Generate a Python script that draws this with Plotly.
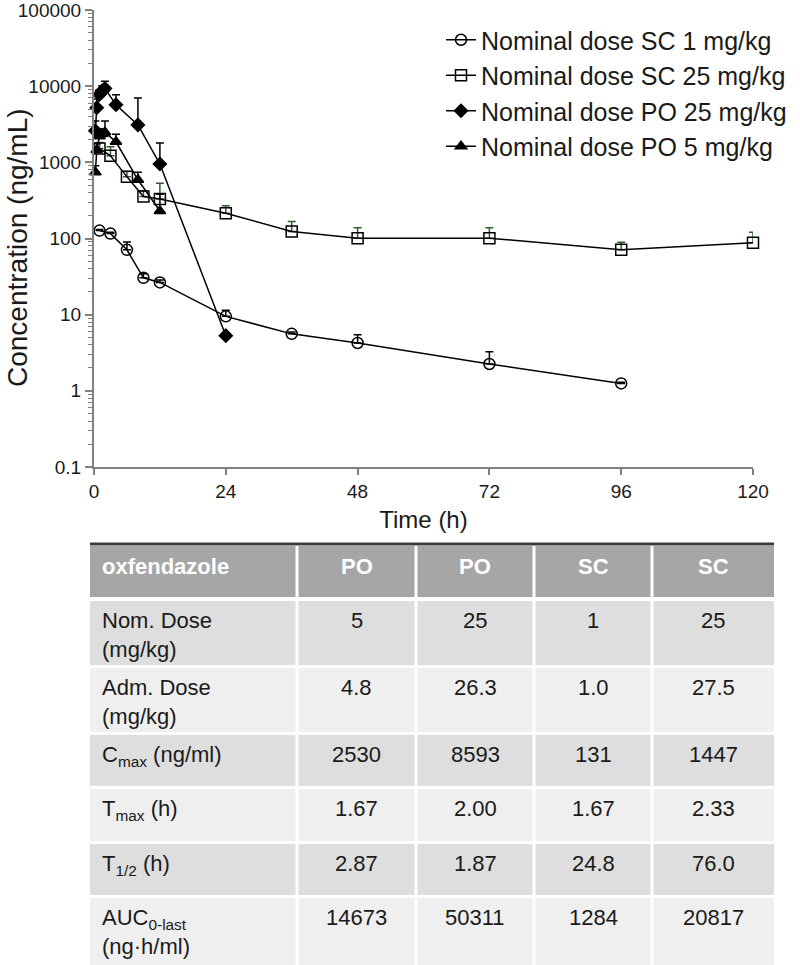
import plotly.graph_objects as go

# ---------------- data ----------------
sc1_t = [1, 3, 6, 9, 12, 24, 36, 48, 72, 96]
sc1_c = [127, 116, 71, 30.5, 26.5, 9.5, 5.6, 4.25, 2.25, 1.25]
sc1_e = [4, 5, 19, 4, 2, 1.9, 0.3, 1.2, 1.0, 0.05]

sc25_t = [1, 3, 6, 9, 12, 24, 36, 48, 72, 96, 120]
sc25_c = [1520, 1220, 645, 355, 330, 215, 124, 101, 101, 71, 88]
sc25_e = [300, 380, 115, 70, 200, 55, 43, 37, 37, 18, 33]

po25_t = [0.25, 0.5, 1, 1.5, 2, 4, 8, 12, 24]
po25_c = [2600, 5200, 7800, 8700, 9300, 5700, 3100, 950, 5.3]
po25_e = [900, 1600, 1200, 1400, 2300, 2000, 3900, 850, 0.4]

po5_t = [0.25, 0.5, 1, 1.5, 2, 4, 8, 12]
po5_c = [740, 1450, 2200, 2350, 2480, 1860, 590, 230]
po5_e = [160, 300, 300, 400, 1000, 480, 150, 150]

x_ticks = [0, 24, 48, 72, 96, 120]
y_ticks = [0.1, 1, 10, 100, 1000, 10000, 100000]
y_ticklabels = ["0.1", "1", "10", "100", "1000", "10000", "100000"]

tbl_header = ["oxfendazole", "PO", "PO", "SC", "SC"]
tbl_labels = ["Nom. Dose<br>(mg/kg)", "Adm. Dose<br>(mg/kg)", "C<sub>max</sub> (ng/ml)",
              "T<sub>max</sub> (h)", "T<sub>1/2</sub> (h)", "AUC<sub>0-last</sub><br>(ng·h/ml)"]
tbl_po5 = ["5", "4.8", "2530", "1.67", "2.87", "14673"]
tbl_po25 = ["25", "26.3", "8593", "2.00", "1.87", "50311"]
tbl_sc1 = ["1", "1.0", "131", "1.67", "24.8", "1284"]
tbl_sc25 = ["25", "27.5", "1447", "2.33", "76.0", "20817"]

# ---------------- layout geometry (pixels) ----------------
W, H = 800, 965
ML, MR, MT, MB = 94, 47, 10, 498
PW, PH = W - ML - MR, H - MT - MB
Y0 = MT + PH  # pixel y of plot bottom


def px(x):
    return (x - ML) / PW


def py(y):
    return (Y0 - y) / PH


FONT = "Liberation Sans, Arial, sans-serif"
TXT = "#1a1a1a"

fig = go.Figure()


def add_series(name, t, c, e, symbol, size, ecolor):
    fig.add_trace(go.Scatter(
        x=t, y=c, name=name, mode="lines+markers", cliponaxis=False,
        line=dict(color="black", width=1.5),
        marker=dict(symbol=symbol, size=size, color="black",
                    line=dict(color="black", width=1.5)),
        error_y=dict(type="data", symmetric=False, array=e,
                     arrayminus=[0] * len(e), color=ecolor,
                     thickness=1.5, width=4),
    ))


add_series("Nominal dose SC 1 mg/kg", sc1_t, sc1_c, sc1_e, "circle-open", 11, "black")
add_series("Nominal dose SC 25 mg/kg", sc25_t, sc25_c, sc25_e, "square-open", 11, "#2e5e2e")
add_series("Nominal dose PO 25 mg/kg", po25_t, po25_c, po25_e, "diamond", 10, "black")
add_series("Nominal dose PO 5 mg/kg", po5_t, po5_c, po5_e, "triangle-up", 10, "black")

shapes = []
annotations = []

# y axis title
annotations.append(dict(text="Concentration (ng/mL)", x=px(17), y=py(248),
                        xref="paper", yref="paper", showarrow=False, textangle=-90,
                        font=dict(family=FONT, size=28, color=TXT),
                        xanchor="center", yanchor="middle"))

# ---------------- table ----------------
col_edges = [90, 297, 416, 534, 652, 774]
row_edges = [(546, 597), (601, 665), (668, 732), (735, 786), (789, 841), (844, 895), (898, 975)]
row_fills = ["#a6a6a6", "#dedede", "#efefef", "#dedede", "#efefef", "#dedede", "#efefef"]
GAP = 1.5

for ri, (ytop, ybot) in enumerate(row_edges):
    for ci in range(5):
        x0 = col_edges[ci] + (0 if ci == 0 else GAP)
        x1 = col_edges[ci + 1] - (0 if ci == 4 else GAP)
        shapes.append(dict(type="rect", xref="paper", yref="paper",
                           x0=px(x0), x1=px(x1), y0=py(ybot), y1=py(ytop),
                           fillcolor=row_fills[ri], line=dict(width=0), layer="below"))

shapes.append(dict(type="line", xref="paper", yref="paper",
                   x0=px(col_edges[0]), x1=px(col_edges[-1]), y0=py(544), y1=py(544),
                   line=dict(color="#3c3c3c", width=3)))

TF = 22
# header
for ci, txt in enumerate(tbl_header):
    if ci == 0:
        xx, xa = px(col_edges[0] + 10), "left"
    else:
        xx, xa = px((col_edges[ci] + col_edges[ci + 1]) / 2), "center"
    annotations.append(dict(text="<b>" + txt + "</b>", x=xx, y=py(566), xref="paper", yref="paper",
                            showarrow=False, xanchor=xa, yanchor="middle",
                            font=dict(family=FONT, size=TF, color="white")))

cols = [tbl_po5, tbl_po25, tbl_sc1, tbl_sc25]
for ri, lab in enumerate(tbl_labels):
    ytop = row_edges[ri + 1][0]
    annotations.append(dict(text=lab, x=px(col_edges[0] + 10), y=py(ytop + 5), xref="paper", yref="paper",
                            showarrow=False, xanchor="left", yanchor="top", align="left",
                            font=dict(family=FONT, size=TF, color=TXT)))
    for ci, col in enumerate(cols):
        annotations.append(dict(text=col[ri], x=px((col_edges[ci + 1] + col_edges[ci + 2]) / 2),
                                y=py(ytop + 5), xref="paper", yref="paper",
                                showarrow=False, xanchor="center", yanchor="top",
                                font=dict(family=FONT, size=TF, color=TXT)))

fig.update_layout(
    width=W, height=H,
    margin=dict(l=ML, r=MR, t=MT, b=MB, autoexpand=False),
    paper_bgcolor="white", plot_bgcolor="white",
    font=dict(family=FONT, color=TXT),
    showlegend=True,
    legend=dict(x=px(441), y=py(17), xanchor="left", yanchor="top",
                font=dict(family=FONT, size=25, color=TXT),
                bgcolor="rgba(0,0,0,0)", borderwidth=0),
    xaxis=dict(range=[0, 120], tickvals=x_ticks, ticks="outside", ticklen=6, tickwidth=1.5,
               tickcolor="#808080", showline=True, linecolor="#808080", linewidth=2,
               showgrid=False, zeroline=False, ticklabeloverflow="allow",
               tickfont=dict(family=FONT, size=19, color=TXT),
               title=dict(text="Time (h)", font=dict(family=FONT, size=24, color=TXT), standoff=10)),
    yaxis=dict(type="log", range=[-1, 5.0002], tickvals=y_ticks, ticktext=y_ticklabels,
               ticks="outside", ticklen=7, tickwidth=1.5, tickcolor="#808080",
               minor=dict(ticks="outside", ticklen=4, tickcolor="#808080", tickwidth=1, dtick="D1", showgrid=False),
               showline=True, linecolor="#808080", linewidth=2, showgrid=False, zeroline=False,
               ticklabeloverflow="allow",
               tickfont=dict(family=FONT, size=19, color=TXT)),
    shapes=shapes, annotations=annotations,
)

fig.write_html("out.html", config={"displayModeBar": False},
               post_script="document.body.style.margin='0px';")
